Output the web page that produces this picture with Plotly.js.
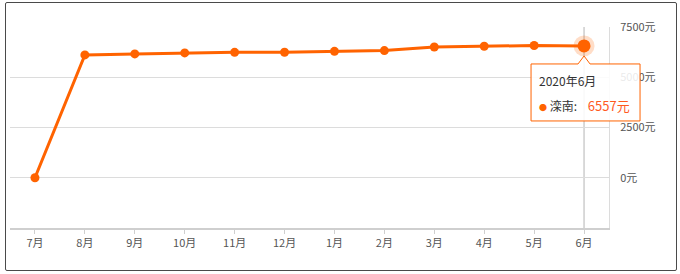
<!DOCTYPE html>
<html>
<head>
<meta charset="utf-8">
<script src="https://cdn.plot.ly/plotly-3.0.1.min.js"></script>
<style>
  html, body { margin: 0; padding: 0; background: #fff; }
  #wrap { position: relative; width: 680px; height: 274px; }
  #chart { position: absolute; left: 0; top: 0; width: 680px; height: 274px; }
  #frame {
    position: absolute; left: 5px; top: 2px; width: 670px; height: 267px;
    border: 1.5px solid #4a4a4a; border-radius: 2px; pointer-events: none;
  }
</style>
</head>
<body>
<div id="wrap">
  <div id="chart"></div>
  <div id="frame"></div>
</div>
<script>
// 滦南 monthly average price (元), Jul 2019 – Jun 2020
const months = ['7月', '8月', '9月', '10月', '11月', '12月', '1月', '2月', '3月', '4月', '5月', '6月'];
const prices = [0, 6110, 6160, 6210, 6240, 6245, 6290, 6325, 6505, 6540, 6580, 6557];
const yTicks = [0, 2500, 5000, 7500];
const yTickText = yTicks.map(v => v + '元');
const seriesName = '滦南';
const focusLabel = '2020年6月';

const orange = '#ff6300';
const font = '"Noto Sans CJK SC", "Noto Sans", sans-serif';
const last = months.length - 1;

const xRange = [-0.5, months.length - 0.5];
const yRange = [-2500, 7500];

// paper position of the focused point, so the tooltip can spill past the plot edge
const focusX = (last - xRange[0]) / (xRange[1] - xRange[0]);
const focusY = (prices[last] - yRange[0]) / (yRange[1] - yRange[0]);

const traces = [
  {
    x: months, y: prices, type: 'scatter', mode: 'lines+markers',
    line: { color: orange, width: 3 },
    marker: { color: orange, size: 9 },
    hoverinfo: 'skip', showlegend: false
  },
  // emphasised point with halo
  {
    x: [months[last]], y: [prices[last]], type: 'scatter', mode: 'markers',
    marker: { color: 'rgba(255,99,0,0.22)', size: 21 },
    hoverinfo: 'skip', showlegend: false
  },
  {
    x: [months[last]], y: [prices[last]], type: 'scatter', mode: 'markers',
    marker: { color: orange, size: 13 },
    hoverinfo: 'skip', showlegend: false
  }
];

// tooltip outline (pixel offsets from the focused point)
const tipPath = 'M -53,-18 L -6,-18 L 0,-10 L 6,-18 L 56,-18 L 56,-75 L -53,-75 Z';

const layout = {
  width: 680, height: 274,
  margin: { l: 10, r: 71, t: 27, b: 46 },
  paper_bgcolor: '#fff', plot_bgcolor: '#fff',
  font: { family: font, size: 11, color: '#555' },
  xaxis: {
    type: 'category', range: xRange,
    showgrid: false, zeroline: false,
    showline: true, linecolor: '#cfcfcf', linewidth: 2,
    ticks: 'outside', ticklen: 4, tickcolor: '#cfcfcf', tickwidth: 1,
    tickfont: { family: font, size: 11, color: '#555' },
    fixedrange: true
  },
  yaxis: {
    side: 'right', range: yRange,
    tickmode: 'array', tickvals: yTicks, ticktext: yTickText,
    showgrid: true, gridcolor: '#dcdcdc', gridwidth: 1,
    zeroline: false, showline: true, linecolor: '#dcdcdc', linewidth: 1,
    ticks: '', ticklabelstandoff: 8,
    tickfont: { family: font, size: 11, color: '#555' },
    fixedrange: true
  },
  shapes: [
    {
      type: 'line', xref: 'x', yref: 'paper',
      x0: months[last], x1: months[last], y0: 0, y1: 1,
      line: { color: '#b5b5b5', width: 1 }, layer: 'below'
    },
    {
      type: 'path', layer: 'above',
      xref: 'paper', yref: 'paper', xsizemode: 'pixel', ysizemode: 'pixel',
      xanchor: focusX, yanchor: focusY,
      path: tipPath,
      fillcolor: 'rgba(255,255,255,0.88)',
      line: { color: orange, width: 1 }
    }
  ],
  annotations: [
    {
      xref: 'x', yref: 'y', x: months[last], y: prices[last],
      xanchor: 'left', yanchor: 'top', xshift: -47, yshift: -24,
      showarrow: false, align: 'left',
      text: focusLabel,
      font: { family: font, size: 12, color: '#333' }
    },
    {
      xref: 'x', yref: 'y', x: months[last], y: prices[last],
      xanchor: 'left', yanchor: 'top', xshift: -47, yshift: -48,
      showarrow: false, align: 'left',
      text: '<span style="color:' + orange + ';font-size:8px">●</span> ' + seriesName +
            ':    <span style="color:#ff5a1f;font-size:13px">' + prices[last] + '元</span>',
      font: { family: font, size: 12, color: '#333' }
    }
  ]
};

Plotly.newPlot('chart', traces, layout, { displayModeBar: false, staticPlot: true });
</script>
</body>
</html>
